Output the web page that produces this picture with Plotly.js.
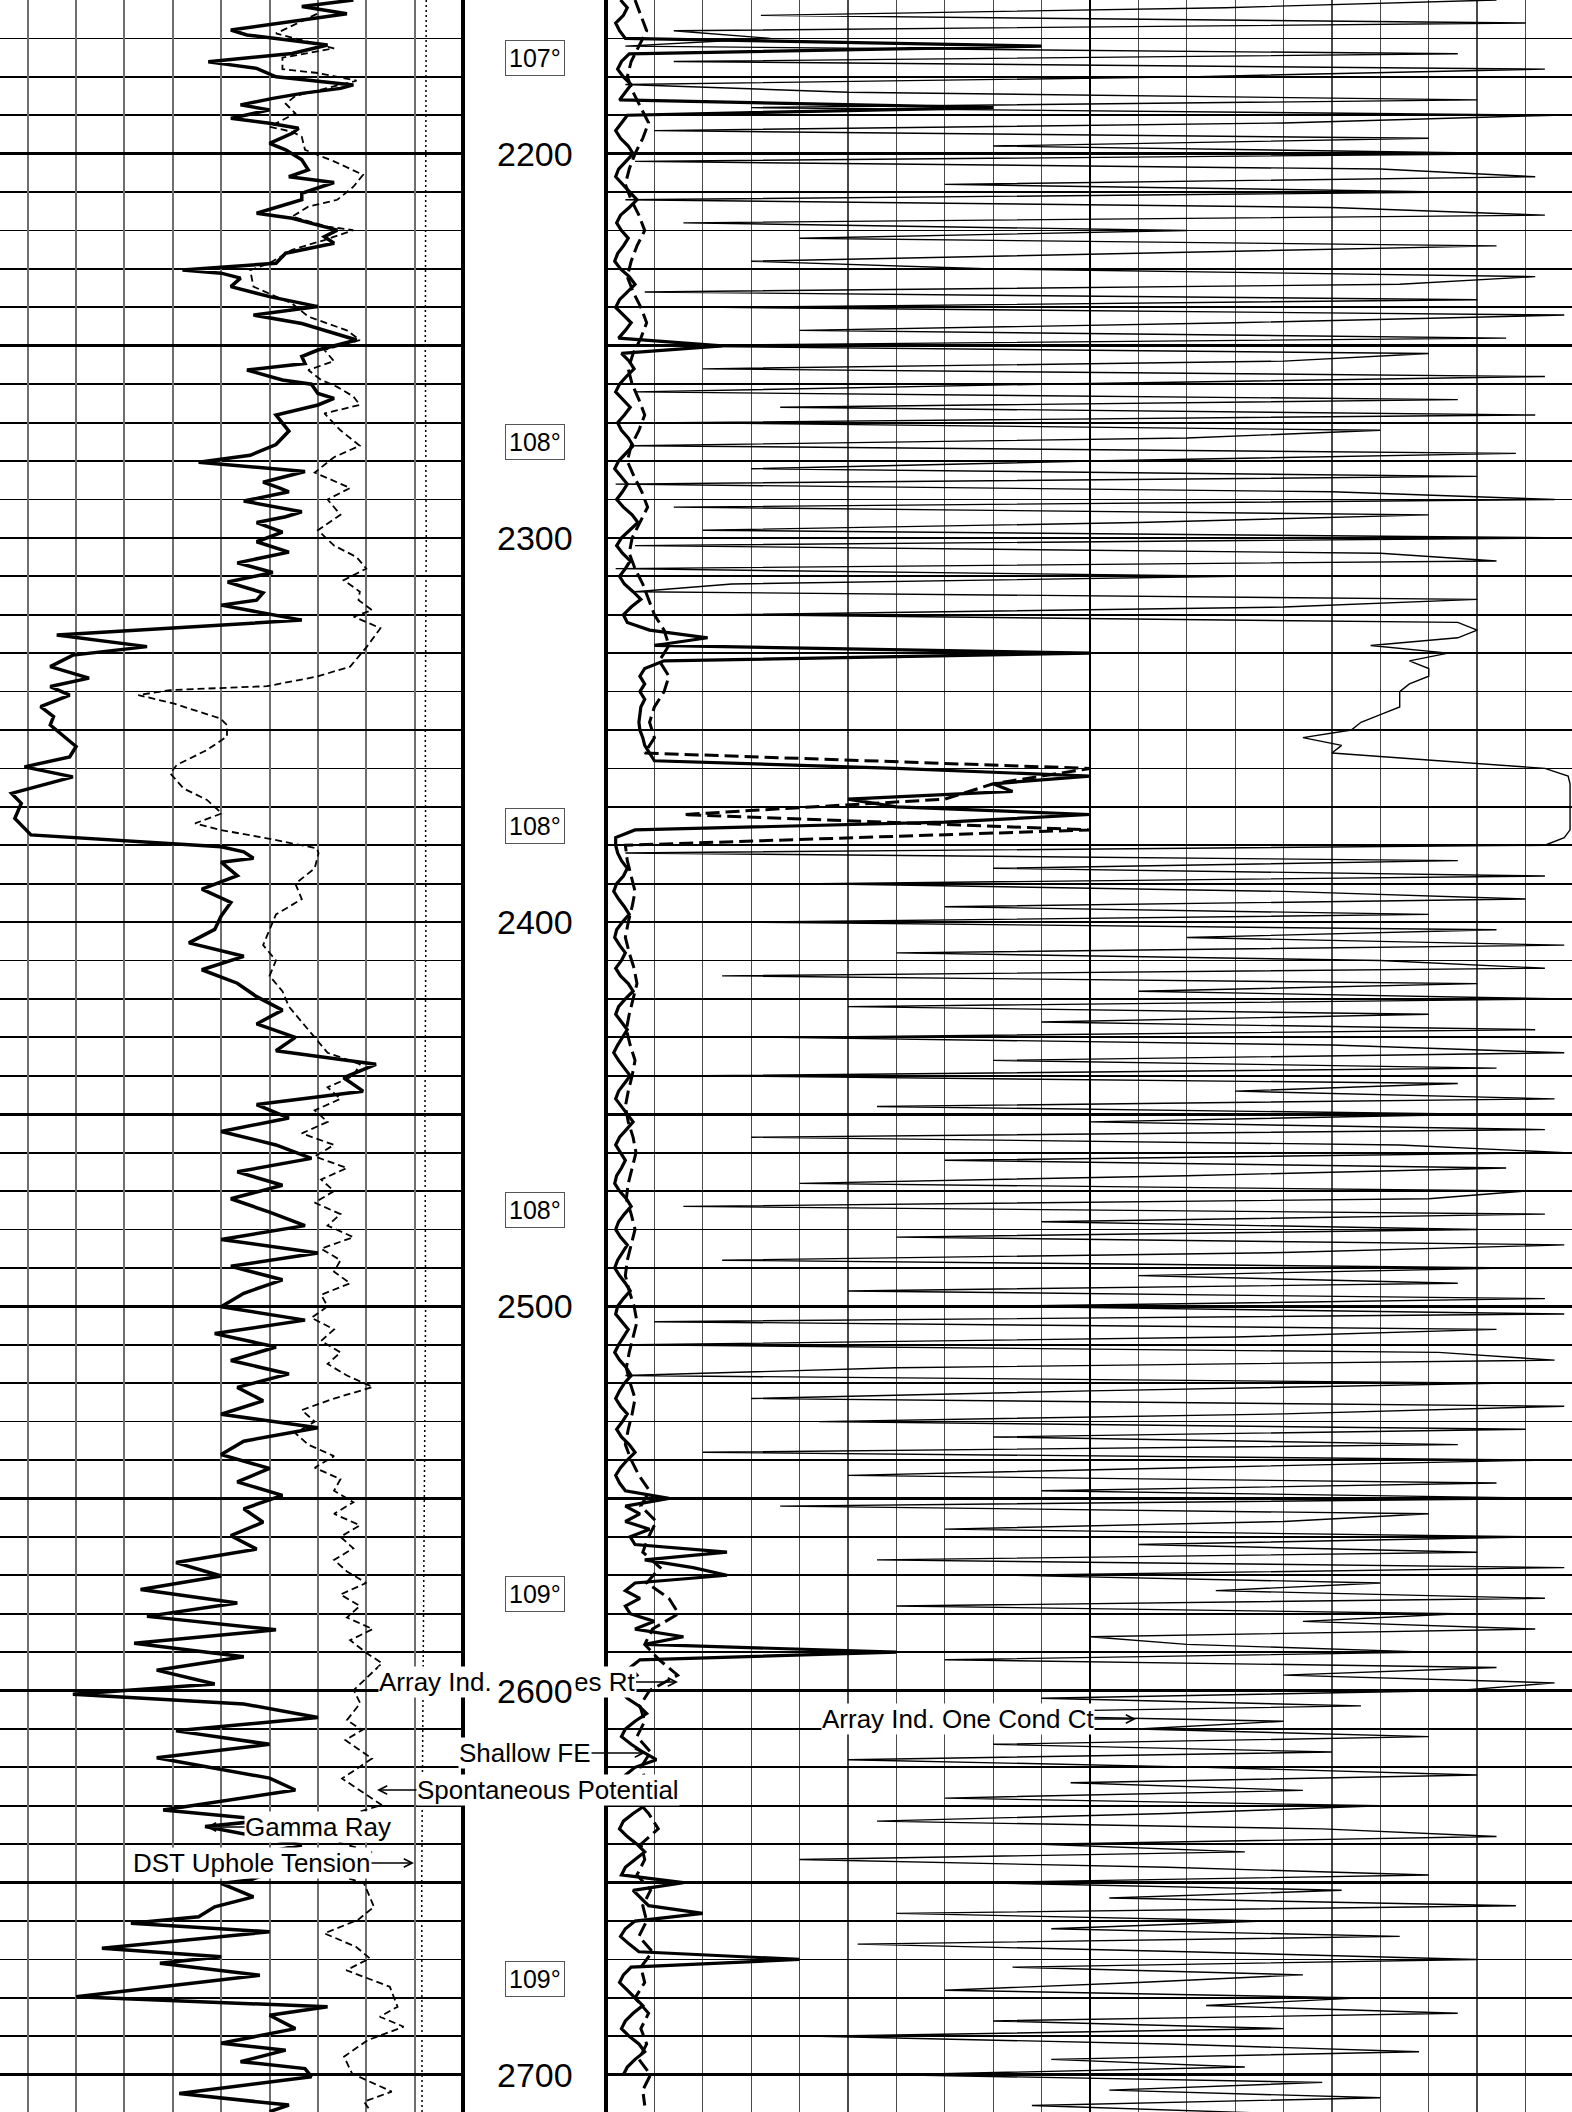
<!DOCTYPE html>
<html><head><meta charset="utf-8">
<script src="https://cdn.plot.ly/plotly-3.0.1.min.js"></script>
<style>html,body{margin:0;padding:0;background:#fff;}#chart{width:1572px;height:2112px;}</style>
</head><body><div id="chart"></div>
<script>
// ---------- DATA ----------
// Gamma Ray (API), left track
const grDepth = [2160,2161.7,2163.6,2166.1,2167.8,2169.1,2171.7,2173.9,2176.1,2177.8,2180,2182.1,2183,2184.3,2185.6,2187.3,2188.6,2190.8,2192.1,2193.4,2194.7,2197.3,2199,2201.6,2204.2,2206,2207.5,2210.3,2212,2215.5,2216.8,2219.9,2221.6,2223.3,2225.9,2228.5,2230.3,2231.1,2232.4,2234.6,2237.2,2239.8,2242,2244.2,2248.5,2251.1,2252.8,2254.6,2256.3,2258.9,2260,2262.4,2263.7,2265.4,2268,2272.2,2275.7,2278.5,2280.3,2282.7,2285.5,2287,2288,2290.4,2293.2,2294.5,2296,2298.5,2301,2303.7,2306.5,2309,2311.5,2314.3,2316.2,2317.5,2321.4,2325.3,2328.3,2330.5,2333.5,2336.5,2338.7,2340.9,2343.9,2346.5,2348.7,2354.3,2357,2359.6,2362.2,2366.5,2369.1,2373,2376.5,2377.3,2380.4,2381.7,2383.4,2384.4,2387.9,2391.4,2394.9,2398.4,2401.9,2405.4,2408.9,2412.4,2415.9,2419.4,2422.9,2426.5,2430,2433.5,2437,2440.5,2444,2447.5,2451,2454.5,2458,2461.5,2465,2468.5,2472,2475.5,2479,2482.6,2486.1,2489.6,2493.1,2496.6,2500.1,2503.6,2507.1,2510.6,2514.1,2517.6,2521.1,2524.6,2528.1,2531.6,2535.1,2538.6,2542.2,2545.7,2549.2,2552.7,2556.2,2559.7,2563.2,2566.7,2570.2,2573.7,2577.2,2580.7,2584.2,2587.7,2591.2,2594.7,2598.3,2601,2603.5,2607,2610.5,2614,2617.5,2622.8,2625.9,2631.1,2633.7,2635.4,2640.2,2642.8,2646.3,2649.3,2650.2,2653.7,2656.3,2658.9,2660.6,2662.8,2667.1,2669.3,2671,2674.1,2679.7,2682.3,2684.5,2688,2691.8,2693.6,2696.6,2698.4,2700.5,2704.9,2707.9,2709.6];
const grApi = [116,100,114,92,78,83,108,97,71,86,92,116,112,100,91,81,90,78,90,99,97,90,95,100,102,96,110,100,100,86,97,111,107,110,95,92,63,75,81,78,90,105,85,100,117,105,100,101,83,94,103,105,110,105,92,96,92,84,68,101,88,93,96,82,100,95,86,94,86,96,80,91,77,88,86,75,100,24,52,29,22,34,22,28,19,23,22,30,28,14,29,10,13,11,15,16,75,82,85,75,80,69,78,75,73,65,82,69,80,86,94,86,98,92,123,113,119,86,96,75,92,103,80,94,78,90,101,75,105,78,94,82,75,101,73,92,78,96,80,88,75,105,82,75,90,80,94,82,88,78,86,61,75,50,80,52,92,48,82,55,73,29,82,105,61,90,55,90,98,57,90,70,100,85,94,84,75,85,73,68,47,90,38,75,56,87,30,108,90,98,75,95,81,101,103,62,96,90];

// Spontaneous Potential (plotted on left-track scale)
const spDepth = [2160.9,2163.5,2168.7,2172.6,2175,2178,2179,2181,2185,2187,2189.5,2193,2194.3,2195.6,2199,2202,2205.5,2208.6,2212,2213.8,2216.4,2219,2219.9,2222.5,2225,2228.5,2230.3,2234.6,2237.2,2239,2242.4,2246,2248.5,2251.1,2254,2256.3,2258.9,2260.7,2263.2,2265.4,2267.6,2272,2276,2279,2283,2287,2290,2294,2298,2302,2305,2308,2311,2314,2316.2,2318.8,2320.5,2323.5,2328.3,2333.5,2336.1,2338.6,2339.6,2340.9,2343.1,2347,2348.7,2351.7,2355.2,2359.1,2361.3,2365.2,2368.2,2371.7,2374.3,2376,2378.2,2380.8,2382.1,2386,2390,2394,2398,2402,2406,2410,2414,2418,2422,2426,2430,2434,2437,2440,2443,2446,2449,2452,2455,2458,2461,2464,2467,2470,2473,2476,2479,2482,2485,2488,2491,2494,2497,2500,2503,2506,2509,2512,2515,2518,2521,2524,2527,2530,2533,2536,2539,2542,2545,2548,2551,2554,2557,2560,2563,2566,2569,2572,2575,2578,2581,2584,2586.9,2590.3,2592.9,2599.9,2603.3,2607.7,2610.3,2612.9,2617.7,2622.9,2629.8,2632.8,2636.3,2639.4,2642,2648.5,2650.2,2656.3,2659.7,2663.2,2666.7,2669.7,2672.8,2677.1,2682.3,2684.9,2687.5,2691,2695.3,2699.7,2704.4,2707,2709.2];
const spValue = [105,105,92,110,94,94,105,117,98,95,98,90,97,100,101,110,119,116,111,102,97,108,116,107,97,90,84,85,92,97,102,114,118,107,110,102,106,111,116,118,107,112,118,110,104,115,108,112,105,110,117,120,113,118,117.6,121.8,116.1,124.4,120.2,115,104.7,89.2,59.2,49.3,60.2,74.7,76.8,76.8,70.6,61.2,59.2,63.3,70.6,75.2,66.9,74.7,89.2,104.7,105.2,104,98,100,92,90,88,92,90,94,96,100,104,108,118,116,108,112,104,108,100,110,104,114,106,110,104,112,108,116,106,112,110,115,106,108,103,110,106,112,108,114,122,110,100,104,98,102,110,104,112,110,116,110,118,112,116,110,114,120,112,118,114,122,115,120.2,124.9,116.1,118.1,114,118.7,113.5,121.8,112.5,124.8,113.1,120.5,110.7,121.7,113.1,119.3,122.4,117.4,107,116.8,121.1,113.8,127.3,129.7,124.2,131.6,120.5,113.1,115.6,127.9,119.3,121.1];

// DST Uphole Tension (plotted on left-track scale)
const tenDepth = [2160,2200,2250,2300,2350,2400,2450,2500,2550,2600,2650,2710];
const tenValue = [138.6,138.5,138.3,138.6,138.3,138.5,138.2,138.4,138.0,137.6,137.2,137.3];

// Right track curves, sampled every 2 ft from 2160 ft
const rtTop = 2160, rtStep = 2;
// Shallow FE (left half of the right track, 0-50 scale)
const feValue = [1.5,2.2,1.8,1.0,1.4, 2.0,45,2.4,1.6,1.2, 1.8,2.6,2.0,1.4,40, 2.2,1.6,1.0,1.5,2.3,
2.8,2.0,1.3,1.0,1.7, 2.5,3.2,2.4,1.5,1.1, 1.6,2.3,1.8,1.2,0.9, 1.5,2.4,3.0,2.2,1.4,
1.0,1.8,2.6,2.0,1.3, 12,1.6,2.4,2.9,2.1, 1.4,1.0,1.7,2.5,1.9, 1.2,1.6,2.3,2.8,2.0,
1.3,0.9,1.5,2.2,1.7, 1.1,1.8,2.7,3.3,2.4, 1.6,1.1,1.7,2.5,2.0, 1.4,1.9,2.8,3.6,2.6,
1.8,2.2,4.5,
10.5,5.0,50,6.0,4.0, 3.5,4.0,3.5,4.0,3.6, 3.5,3.4,3.5,3.8,4.0, 4.5,5.0,30,50,40, 42,25,30,50,35, 3.0,1.0,1.0,
1.2,1.6,2.2,1.8,1.1, 0.8,1.3,1.9,2.4,1.7, 1.1,0.9,1.4,2.0,1.6, 1.0,1.5,2.3,2.8,2.0,
1.3,1.0,1.6,2.2,1.7, 1.2,0.8,1.3,1.9,2.5, 1.9,1.3,1.0,1.6,2.2, 2.8,2.1,1.4,1.0,1.5,
2.0,1.6,1.1,0.9,1.4, 2.1,2.6,1.9,1.3,1.0, 1.5,2.2,1.7,1.2,0.9, 1.4,2.0,2.5,1.8,1.2,
1.0,1.6,2.3,1.8,1.3, 0.9,1.4,2.1,2.6,1.9, 1.4,1.0,1.5,2.2,1.7, 1.1,1.6,2.4,3.0,2.2,
1.5,1.0,1.4,2.0,
6.5,2.0,3.5,2.0,4.5, 2.5,3.0,12.5,4.0,9.0, 12.5,3.0,2.0,3.5,2.0, 2.5,5.0,3.0,8.0,4.0,
30,3.5,2.5,3.2,2.0, 1.5,2.2,3.4,4.2,3.0, 2.0,1.6,2.6,3.8,5.2, 3.0,2.0,1.5,2.4,3.6,
4.0,2.8,1.8,1.4,2.2, 3.2,4.0,3.0,2.0,1.6, 8.0,2.8,3.6,4.4,10, 3.0,2.0,1.5,2.4,3.4,
20,2.6,1.8,1.4,2.2, 3.0,3.8,2.8,2.0,1.6, 2.4,3.4,4.0,3.0,2.2, 1.8];
// Array Ind. One Res Rt, sampled every 4 ft from 2160 ft (0-50 scale)
const resTop = 2160, resStep = 4;
const resValue = [3.0,3.6,4.2,3.4,2.6,2.2,2.8,3.6,4.4,3.8, 3.0,2.4,2.0,2.6,3.4,4.0,3.2,2.6,2.2,2.8,
3.6,4.2,3.6,2.8,2.3,2.7,3.4,4.0,3.4,2.6, 2.2,2.9,3.7,4.3,3.5,2.7,2.4,3.0,3.8,4.4, 5.0,
6.0,6.5,5.5,6.5,6.0,5.0,4.5,5.0,4.0,50,40,35,8.0,50,2.0,
2.2,2.6,3.0,2.7,2.3,2.0,2.4,2.9,3.2,2.8, 2.4,2.1,2.5,3.0,2.7,2.3,2.0,2.3,2.8,3.1,
2.7,2.3,2.1,2.6,3.0,2.6,2.2,2.0,2.4,2.9, 3.2,2.8,2.4,2.1,2.5,3.0,2.7,2.3,2.0,2.6,
3.4,4.5,3.6,5.2,4.4,3.8,5.6,4.2,6.5,7.5, 4.8,4.0,5.5,7.4,
4.5,3.5,4.0,3.2,4.6,3.6,4.2,3.0,4.4,5.4, 3.6,4.0,3.2,4.6,3.8,4.2,3.4,4.8,3.6,4.0, 3.0,4.4,3.6,4.2,3.4,4.6,3.8,4.0];
// Array Ind. One Cond Ct (full right track, 0-100 scale), every 2 ft
const condValue = [92,64,16,95,7,17,2,88,7,97, 60,2,25,90,15,98,70,5,85,40,
95,3,80,96,35,88,2,75,97,8, 60,20,92,55,15,40,96,82,4,90,
12,99,65,20,93,2,85,70,10,97, 45,3,88,18,96,7,80,60,3,94,
50,15,90,1,75,98,7,85,55,10, 99,3,80,92,1,65,13,3,90,70, 13,88,90,
88,79,87,83,85,85,83,82,82,82, 80,78,77,72,76,75,86,97,99.4,99.6, 99.6,99.6,99.6,99.6,99.6,99.6,99,97,
2,88,40,97,22, 70,95,35,85,15, 92,60,99,30,80, 97,12,90,55,99, 25,85,45,96,18,
75,99,40,92,10, 88,65,98,28,90, 50,97,15,82,99, 35,93,60,20,95, 85,8,97,45,90,
30,99,70,12,94, 55,88,25,97,40, 99,5,92,65,3, 86,98,30,2,93, 50,15,99,70,22,
95,40,88,10,97, 60,25,92,45,99, 18,85,70,35,96, 55,90,28,99,42, 80,63,97,30,88,
72,96,50,60,85,35,92,70,98,
88,45,78,30,70, 55,85,40,75,25, 62,90,48,72,35, 80,58,28,74,92, 45,66,20,58,85,
38,76,52,94,30, 68,46,82,26,60, 90,42,72,55,35, 78,62,88,40,70, 22,58,84,46,66, 30,74,52,80,44, 68];

// Depth track labels
const depthLabels = [2200,2300,2400,2500,2600,2700];
const tempDepths = [2175,2275,2375,2475,2575,2675];
const tempLabels = ['107°','108°','108°','108°','109°','109°'];

// ---------- BUILD ----------
const W = 1572, H = 2112;
const trackL = 463, trackR = 606;
const rtDepth = feValue.map((_, i) => rtTop + i * rtStep);
const condDepth = condValue.map((_, i) => rtTop + i * rtStep);
const resDepth = resValue.map((_, i) => resTop + i * resStep);

const traces = [
  {x: tenValue, y: tenDepth, xaxis:'x', yaxis:'y', mode:'lines', line:{color:'#000', width:1.5, dash:'2px,3px'}, name:'DST Uphole Tension'},
  {x: spValue, y: spDepth, xaxis:'x', yaxis:'y', mode:'lines', line:{color:'#000', width:1.8, dash:'7px,4px'}, name:'Spontaneous Potential'},
  {x: grApi, y: grDepth, xaxis:'x', yaxis:'y', mode:'lines', line:{color:'#000', width:3.5}, name:'Gamma Ray'},
  {x: condValue, y: condDepth, xaxis:'x2', yaxis:'y', mode:'lines', line:{color:'#000', width:1.4}, name:'Array Ind. One Cond Ct'},
  {x: resValue, y: resDepth, xaxis:'x2', yaxis:'y', mode:'lines', line:{color:'#000', width:3, dash:'14px,6px'}, name:'Array Ind. One Res Rt'},
  {x: feValue, y: rtDepth, xaxis:'x2', yaxis:'y', mode:'lines', line:{color:'#000', width:3.2}, name:'Shallow FE'}
];

const font = {family:'Liberation Sans, Arial, sans-serif', color:'#000'};
const annotations = [];
function lab(text, headX, headY, tailX) {
  annotations.push({xref:'paper', yref:'paper', x: headX / W, y: 1 - headY / H, ax: tailX - headX, ay: 0,
    text: text, showarrow: true, arrowhead: 5, arrowsize: 1.1, arrowwidth: 1.5, arrowcolor:'#000',
    font: Object.assign({size: 26}, font), bgcolor:'#fff', borderpad: 0});
}
lab('Array Ind. One Res Rt', 678, 1682, 507);
lab('Array Ind. One Cond Ct', 1136, 1719, 958);
lab('Shallow FE', 645, 1753, 525);
lab('Spontaneous Potential', 377, 1790, 548);
lab('Gamma Ray', 206, 1827, 318);
lab('DST Uphole Tension', 414, 1863, 252);
depthLabels.forEach(d => annotations.push({xref:'paper', yref:'y', x: 535 / W, y: d, text: String(d), showarrow:false,
  font: Object.assign({size: 34}, font), bgcolor:'#fff', borderpad: 2}));
tempDepths.forEach((d, i) => annotations.push({xref:'paper', yref:'y', x: 535 / W, y: d, text: tempLabels[i], showarrow:false,
  font: Object.assign({size: 25}, font), bgcolor:'#fff', bordercolor:'#555', borderwidth:1, borderpad: 3}));

const shapes = [
  {type:'line', xref:'paper', yref:'paper', x0: trackL / W, x1: trackL / W, y0: 0, y1: 1, line:{color:'#000', width:4}},
  {type:'line', xref:'paper', yref:'paper', x0: trackR / W, x1: trackR / W, y0: 0, y1: 1, line:{color:'#000', width:4}}
];

const layout = {
  width: W, height: H, margin:{l:0, r:0, t:0, b:0}, paper_bgcolor:'#fff', plot_bgcolor:'#fff', showlegend:false,
  xaxis: {domain:[0, trackL / W], range:[6.4, 150], tick0:0, dtick:15, showgrid:true, gridcolor:'#6e6e6e', gridwidth:2,
    showticklabels:false, ticks:'', zeroline:false, showline:false, anchor:'y'},
  xaxis2: {domain:[trackR / W, 1], range:[0, 99.8], tick0:0, dtick:50, showgrid:true, gridcolor:'#000', gridwidth:2,
    minor:{tick0:0, dtick:5, showgrid:true, gridcolor:'#4a4a4a', gridwidth:1.3}, showticklabels:false, ticks:'', zeroline:false, showline:false, anchor:'y'},
  yaxis: {domain:[0,1], range:[2709.7, 2160], tick0:2150, dtick:50, showgrid:true, gridcolor:'#000', gridwidth:2.6,
    minor:{tick0:2160, dtick:10, showgrid:true, gridcolor:'#000', gridwidth:1.8}, showticklabels:false, ticks:'', zeroline:false, showline:false, anchor:'x'},
  shapes: shapes, annotations: annotations
};
Plotly.newPlot('chart', traces, layout, {staticPlot:true, displayModeBar:false});
</script></body></html>
